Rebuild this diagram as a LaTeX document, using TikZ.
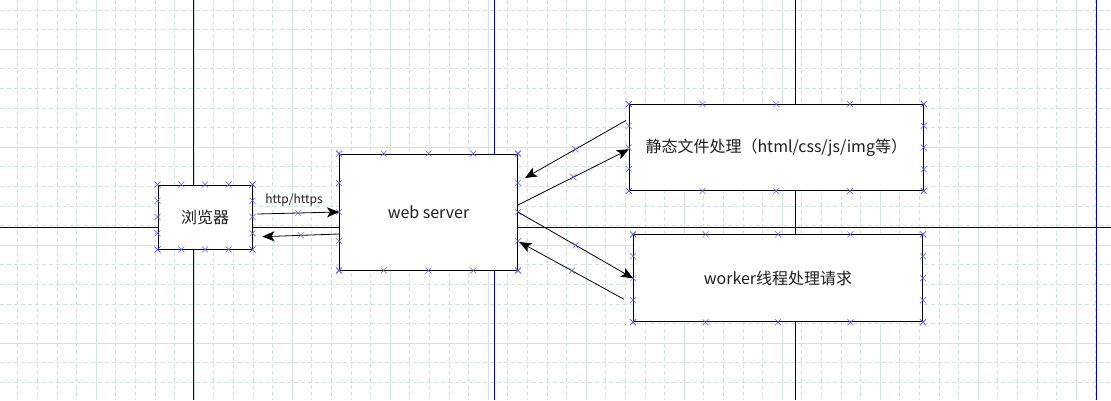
\documentclass[tikz,border=0pt]{standalone}
\usepackage{fontspec}
\newfontfamily\cjk{Noto Sans CJK SC}
\usetikzlibrary{arrows.meta,shapes.misc}
\definecolor{gridminor}{RGB}{210,227,223}
\definecolor{gridmajor}{RGB}{214,226,222}
\definecolor{axisnavy}{RGB}{0,0,90}
\definecolor{pageblue}{RGB}{0,0,205}
\definecolor{markblue}{RGB}{90,90,255}
\definecolor{txt}{RGB}{30,30,30}
\tikzset{
  box/.style={draw=black, fill=white, line width=0.9pt, inner sep=0pt,
    font=\cjk\fontsize{16}{19}\selectfont, text=txt},
  xmark/.style={cross out, draw=markblue, minimum size=5.5pt, inner sep=0pt, line width=0.5pt},
  flow/.style={draw, line width=0.8pt, -{Stealth[length=12pt,width=10pt,inset=3pt]}},
  edgetext/.style={font=\cjk\fontsize{12}{14}\selectfont, text=txt, inner sep=1pt},
}
\begin{document}
\begin{tikzpicture}[x=1pt,y=-1pt]
    \useasboundingbox[fill=white] (0,0) rectangle (1111,400);
    \begin{scope}
      \foreach \x in {17.6,37.2,...,1111}
        \draw[gridminor, dash pattern=on 4pt off 3pt, line width=0.55pt] (\x,0) -- (\x,400);
      \foreach \y in {9.8,29.4,...,400}
        \draw[gridminor, dash pattern=on 4pt off 3pt, line width=0.55pt] (0,\y) -- (1111,\y);
      \foreach \x in {96,194,...,1111}
        \draw[gridmajor, line width=0.8pt] (\x,0) -- (\x,400);
      \foreach \y in {49,147,...,400}
        \draw[gridmajor, line width=0.8pt] (0,\y) -- (1111,\y);

      \draw[axisnavy, line width=1pt] (193.5,0) -- (193.5,400);
      \draw[axisnavy, line width=1pt] (795,0) -- (795,400);
      \draw[axisnavy, line width=1pt] (0,227.5) -- (1111,227.5);
      \draw[pageblue, line width=1pt] (494,0) -- (494,400);
      \draw[pageblue, line width=1pt] (1096,0) -- (1096,400);

      \node[box, minimum width=94pt, minimum height=64pt] (browser) at (205,217) {浏览器};
      \node[box, minimum width=178pt, minimum height=116pt] (server) at (428.5,212) {web server};
      \node[box, minimum width=294pt, minimum height=86pt] (static) at (776.3,147.5) {静态文件处理（html/css/js/img等）};
      \node[box, minimum width=289pt, minimum height=87pt] (worker) at (778,278.3) {worker线程处理请求};

      \foreach \b in {browser,server,static,worker}
        \foreach \f/\k in {0/0,0.25/1,0.5/2,0.75/3,1/4} {
          \path (\b.north west) -- (\b.north east) node[xmark,pos=\f] (\b-t\k) {};
          \path (\b.south west) -- (\b.south east) node[xmark,pos=\f] (\b-b\k) {};
          \path (\b.north west) -- (\b.south west) node[xmark,pos=\f] (\b-l\k) {};
          \path (\b.north east) -- (\b.south east) node[xmark,pos=\f] (\b-r\k) {};
        }

      \path[flow] ([xshift=4.7pt,yshift=3pt]browser.east) -- (server.west)
        node[xmark,pos=0.5] (m1) {}
        node[edgetext,pos=0.45,above=5pt] (proto) {http/https};
      \path[flow] ([yshift=-22pt]server.west) -- ([xshift=10pt,yshift=-19.7pt]browser.east)
        node[xmark,pos=0.5] (m2) {};
      \path[flow] ([yshift=7pt]server.east) -- ([yshift=-1.8pt]static.west)
        node[xmark,pos=0.5] (m3) {};
      \path[flow] ([xshift=-3pt,yshift=27pt]static.west) -- ([xshift=7pt,yshift=34pt]server.east)
        node[xmark,pos=0.5] (m4) {};
      \path[flow] (server.east) -- (worker.west)
        node[xmark,pos=0.5] (m5) {};
      \path[flow] ([xshift=-9pt,yshift=-21pt]worker.west) -- ([xshift=1.6pt,yshift=-30pt]server.east)
        node[xmark,pos=0.5] (m6) {};
    \end{scope}
  \end{tikzpicture}
\end{document}
